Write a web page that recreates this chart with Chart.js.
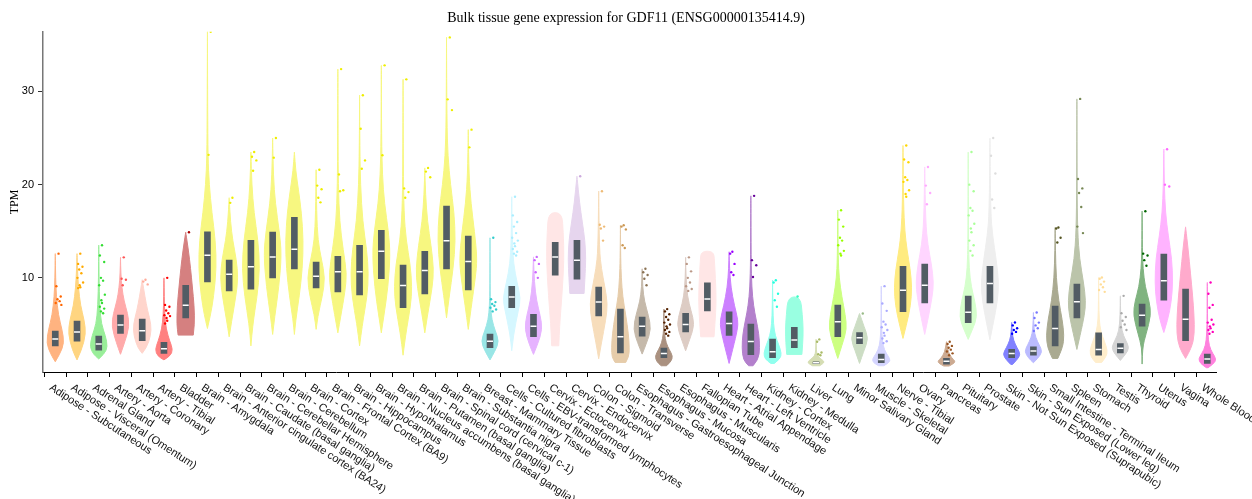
<!DOCTYPE html>
<html>
<head>
<meta charset="utf-8">
<script src="https://cdn.jsdelivr.net/npm/chart.js@4/dist/chart.umd.min.js"></script>
<style>
  html, body { margin: 0; padding: 0; background: #fff; }
  #wrap { width: 1252px; height: 499px; }
</style>
</head>
<body>
<div id="wrap"><canvas id="myChart"></canvas></div>
<script>
const tissues = [
  'Adipose - Subcutaneous', 'Adipose - Visceral (Omentum)', 'Adrenal Gland', 'Artery - Aorta',
  'Artery - Coronary', 'Artery - Tibial', 'Bladder', 'Brain - Amygdala',
  'Brain - Anterior cingulate cortex (BA24)', 'Brain - Caudate (basal ganglia)',
  'Brain - Cerebellar Hemisphere', 'Brain - Cerebellum', 'Brain - Cortex',
  'Brain - Frontal Cortex (BA9)', 'Brain - Hippocampus', 'Brain - Hypothalamus',
  'Brain - Nucleus accumbens (basal ganglia)', 'Brain - Putamen (basal ganglia)',
  'Brain - Spinal cord (cervical c-1)', 'Brain - Substantia nigra', 'Breast - Mammary Tissue',
  'Cells - Cultured fibroblasts', 'Cells - EBV-transformed lymphocytes', 'Cervix - Ectocervix',
  'Cervix - Endocervix', 'Colon - Sigmoid', 'Colon - Transverse',
  'Esophagus - Gastroesophageal Junction', 'Esophagus - Mucosa', 'Esophagus - Muscularis',
  'Fallopian Tube', 'Heart - Atrial Appendage', 'Heart - Left Ventricle', 'Kidney - Cortex',
  'Kidney - Medulla', 'Liver', 'Lung', 'Minor Salivary Gland', 'Muscle - Skeletal',
  'Nerve - Tibial', 'Ovary', 'Pancreas', 'Pituitary', 'Prostate',
  'Skin - Not Sun Exposed (Suprapubic)', 'Skin - Sun Exposed (Lower leg)',
  'Small Intestine - Terminal Ileum', 'Spleen', 'Stomach', 'Testis', 'Thyroid', 'Uterus',
  'Vagina', 'Whole Blood'
];

const colors = [
  '#FF6600', '#FFAA00', '#33DD33', '#FF5555', '#FFAA99', '#FF0000', '#AA0000', '#EEEE00',
  '#EEEE00', '#EEEE00', '#EEEE00', '#EEEE00', '#EEEE00', '#EEEE00', '#EEEE00', '#EEEE00',
  '#EEEE00', '#EEEE00', '#EEEE00', '#EEEE00', '#33CCCC', '#AAEEFF', '#CC66FF', '#FFCCCC',
  '#CCAADD', '#EEBB77', '#CC9955', '#8B7355', '#552200', '#BB9988', '#FFCCCC', '#9900FF',
  '#660099', '#22FFDD', '#33FFC2', '#AABB66', '#99FF00', '#99BB88', '#AAAAFF', '#FFD700',
  '#FFAAFF', '#995522', '#AAFF99', '#DDDDDD', '#0000FF', '#7777FF', '#555522', '#778855',
  '#FFDD99', '#AAAAAA', '#006600', '#FF66FF', '#FF5599', '#FF00BB'
];

// box: lower quartile, median, upper quartile (TPM)
const q1 = [2.71, 3.2, 2.25, 4.04, 3.25, 1.9, 5.7, 9.57, 8.6, 8.8, 10.0, 10.96, 8.93, 8.5, 8.18, 9.9,
  6.79, 8.29, 10.96, 8.71, 2.5, 6.79, 3.68, 10.3, 9.86, 5.93, 1.96, 3.75, 1.43, 4.21, 6.46, 3.82,
  1.75, 1.43, 2.5, 0.8, 3.68, 2.93, 0.89, 6.36, 7.32, 0.75, 5.18, 7.32, 1.43, 1.71, 2.71, 5.71,
  1.71, 1.96, 4.82, 7.61, 3.25, 0.82];
const medians = [3.43, 4.2, 2.9, 4.93, 4.32, 2.4, 7.07, 12.43, 10.4, 11.2, 12.25, 13.08, 10.18, 10.65,
  10.65, 12.86, 9.18, 10.79, 13.97, 11.75, 3.21, 7.95, 4.82, 12.25, 11.9, 7.4, 3.68, 4.82, 1.89,
  5.0, 7.72, 5.11, 3.18, 2.07, 3.32, 0.9, 5.29, 3.57, 1.25, 8.68, 9.22, 1.04, 6.32, 9.4, 1.89,
  2.14, 4.57, 7.43, 2.32, 2.46, 6.0, 9.68, 5.57, 1.29];
const q3 = [4.29, 5.36, 3.75, 6.0, 5.57, 3.07, 9.2, 14.93, 11.9, 14.04, 14.9, 16.5, 11.68, 12.3, 13.5,
  15.1, 11.36, 12.86, 17.7, 14.47, 3.97, 9.1, 6.1, 13.8, 14.04, 9.0, 6.65, 5.79, 2.46, 6.2, 9.46,
  6.36, 5.04, 3.43, 4.68, 1.0, 7.07, 4.14, 1.82, 11.25, 11.47, 1.36, 8.04, 11.25, 2.32, 2.6, 6.97,
  9.32, 4.11, 2.96, 7.18, 12.54, 8.79, 1.82];

// violin outline: [TPM, relative half width]
const violinShapes = [
  [[1.0,0],[1.8,0.5],[3.0,1],[4.5,0.75],[6,0.35],[8,0.12],[10,0.04],[12.6,0]],
  [[1.2,0],[2.2,0.5],[4,1],[5.5,0.8],[7,0.4],[9,0.15],[11,0.05],[12.6,0]],
  [[1.3,0],[1.8,0.6],[2.6,1],[3.8,0.75],[5,0.3],[7,0.1],[10,0.03],[13.5,0]],
  [[1.8,0],[3,0.45],[4.8,1],[6.2,0.8],[7.5,0.4],[9,0.15],[10.5,0.04],[12.2,0]],
  [[1.9,0],[2.5,0.5],[3.8,0.95],[5,1],[6.5,0.6],[8,0.3],[9.8,0]],
  [[1.2,0],[1.6,0.7],[2.3,1],[3.2,0.65],[4.5,0.25],[6,0.08],[8,0.03],[10,0]],
  [[3.86,0.85],[5,1],[7,0.95],[9,0.75],[11,0.55],[13,0.3],[14.9,0]],
  [[4.57,0],[6,0.35],[8,0.7],[11,1],[14,0.9],[17,0.5],[20,0.2],[23,0.06],[28,0.03],[36.4,0]],
  [[3.68,0],[5.5,0.3],[8,0.75],[10,1],[12,0.8],[14,0.4],[16,0.15],[18.6,0]],
  [[2.7,0],[5,0.2],[8,0.7],[11,1],[14,0.8],[17,0.35],[20,0.1],[23.5,0]],
  [[3.93,0],[6,0.25],[9,0.7],[12.5,1],[15,0.75],[18,0.3],[21,0.08],[25,0]],
  [[3.93,0],[5.5,0.15],[8,0.55],[11,0.9],[14,1],[17,0.8],[19.5,0.45],[21.5,0.15],[23.5,0]],
  [[4.47,0],[6,0.2],[8,0.7],[10,1],[12,0.6],[14,0.2],[17,0.06],[21.6,0]],
  [[4.1,0],[6,0.35],[8.5,0.8],[10.5,1],[13,0.6],[16,0.2],[20,0.05],[25,0.02],[32.4,0]],
  [[2.7,0],[5,0.3],[8,0.85],[10.5,1],[13,0.8],[16,0.35],[20,0.1],[24,0.03],[29.6,0]],
  [[4.1,0],[6,0.3],[9,0.75],[12.5,1],[15,0.8],[18,0.35],[21,0.12],[25,0.03],[32.8,0]],
  [[1.7,0],[4,0.3],[7,0.85],[9,1],[11.5,0.8],[14,0.35],[17,0.1],[22,0.03],[31.3,0]],
  [[4.1,0],[6,0.3],[9,0.85],[11,1],[13.5,0.7],[16,0.3],[19,0.08],[21.8,0]],
  [[5.71,0],[8,0.3],[11,0.75],[14,1],[17,0.85],[20,0.45],[23,0.15],[27,0.04],[35.8,0]],
  [[4.47,0],[7,0.35],[10,0.8],[12,1],[15,0.7],[18,0.3],[21,0.08],[25.9,0]],
  [[1.2,0],[2.2,0.6],[3.2,1],[4.3,0.6],[5.5,0.2],[7,0.06],[9,0.02],[14.3,0]],
  [[2.18,0],[4,0.2],[6.5,0.75],[7.8,1],[9.5,0.6],[11.5,0.2],[14,0.06],[18.7,0]],
  [[1.79,0],[2.8,0.45],[4.5,1],[6,0.75],[7.5,0.35],[9.5,0.1],[12.25,0]],
  [[2.71,0.4],[5,0.5],[8,0.75],[12,1],[15,0.9],[17,0.75]],
  [[8.33,0.8],[10,0.9],[12,1],[14,0.9],[16,0.6],[18,0.3],[20.9,0]],
  [[1.32,0],[3,0.3],[5.5,0.8],[7.2,1],[9,0.7],[11,0.3],[13,0.08],[19.3,0]],
  [[0.93,0.6],[1.5,0.95],[2.5,1],[4,0.9],[6,0.6],[8,0.25],[10,0.1],[12,0.03],[15.65,0]],
  [[1.82,0],[3,0.5],[4.5,1],[6,0.7],[7.5,0.25],[9,0.06],[10.97,0]],
  [[0.57,0.3],[1.0,0.8],[1.6,1],[2.3,0.6],[3,0.25],[4,0.06],[5,0.02],[6.65,0]],
  [[2.18,0],[3.5,0.5],[5,1],[6.5,0.6],[8,0.2],[10,0.04],[12.2,0]],
  [[3.68,0.75],[5,0.85],[7.5,1],[10,0.9],[11.8,0.8],[12.86,0.7]],
  [[0.82,0],[2.5,0.45],[4.5,0.95],[5.5,1],[7,0.6],[9,0.2],[11,0.05],[12.8,0]],
  [[0.57,0.25],[1.2,0.85],[2.5,1],[4,0.9],[5.5,0.6],[7,0.3],[9,0.1],[12,0.03],[18.8,0]],
  [[0.82,0.2],[1.3,0.85],[1.9,1],[2.8,0.7],[3.8,0.3],[5,0.1],[7,0.03],[9.75,0]],
  [[1.79,0.85],[3,0.95],[4.5,1],[6,0.9],[7.96,0.7]],
  [[0.57,0.4],[0.9,1],[1.2,0.7],[1.6,0.15],[2.2,0.03],[3.4,0]],
  [[1.36,0],[3,0.55],[4.5,1],[6,0.85],[8,0.45],[10,0.15],[12,0.05],[17.26,0]],
  [[0.82,0],[2.2,0.5],[3.5,1],[4.8,0.5],[6.18,0]],
  [[0.57,0.3],[0.9,0.9],[1.3,1],[1.9,0.55],[2.7,0.2],[4,0.06],[6,0.02],[9.11,0]],
  [[3.5,0],[5,0.4],[7,0.85],[9,1],[11,0.8],[13,0.45],[15,0.2],[18,0.06],[24.2,0]],
  [[3.93,0],[5.5,0.35],[8,0.85],[9.5,1],[11.5,0.75],[13.5,0.35],[16,0.1],[21.9,0]],
  [[0.54,0.3],[0.8,0.8],[1.05,1],[1.4,0.6],[2,0.2],[3.15,0]],
  [[3.4,0],[4.5,0.5],[5.8,1],[7.5,0.75],[9,0.35],[11,0.1],[14,0.03],[23.5,0]],
  [[3.36,0],[5,0.35],[7.5,0.85],[9.5,1],[12,0.7],[14.5,0.3],[17,0.08],[25,0]],
  [[0.71,0.1],[1.2,0.6],[1.8,1],[2.5,0.6],[3.3,0.2],[4.2,0.05],[5.21,0]],
  [[0.89,0],[1.4,0.55],[2.1,1],[2.8,0.65],[3.6,0.25],[4.5,0.06],[6.29,0]],
  [[1.36,0.3],[2.5,0.85],[3.8,1],[5.5,0.8],[7.5,0.4],[10,0.12],[13,0.03],[15.4,0]],
  [[2.32,0],[4,0.4],[6,0.85],[7.5,1],[9.5,0.75],[12,0.3],[15,0.08],[20,0.02],[29.2,0]],
  [[0.93,0.35],[1.5,0.85],[2.2,1],[3.2,0.65],[4.2,0.25],[5.5,0.06],[7.5,0.02],[10.04,0]],
  [[1.14,0],[1.8,0.6],[2.5,1],[3.3,0.6],[4.3,0.15],[6,0.03],[8.07,0]],
  [[0.75,0],[2.5,0.03],[4,0.45],[6,1],[7.5,0.8],[9,0.35],[11,0.1],[13,0.03],[17.15,0]],
  [[4.14,0],[5.5,0.45],[7.5,0.85],[9.5,1],[12,0.9],[14.5,0.5],[17,0.18],[20,0.05],[23.8,0]],
  [[1.36,0],[2.5,0.7],[4,1],[6,0.95],[8,0.8],[10.5,0.55],[13,0.3],[15.47,0]],
  [[0.36,0.1],[0.8,0.75],[1.3,1],[1.9,0.6],[2.7,0.2],[4,0.06],[6,0.02],[9.5,0]]
];

// points above the upper fence (TPM)
const outliers = [
  [12.6, 9.1, 8.0, 7.7, 7.5, 7.3, 7.1],
  [12.6, 11.5, 11.2, 10.9, 10.5, 10.0, 9.5, 9.2, 9.0, 8.9],
  [13.5, 12.4, 11.7, 10.0, 9.7, 9.2, 8.2, 7.6, 7.3, 6.9, 6.7, 6.4, 6.2],
  [12.2, 9.9, 9.8, 9.2],
  [9.8, 9.6, 9.3],
  [10.0, 7.1, 6.9, 6.5, 6.2, 6.0, 5.9, 5.7, 5.4, 5.1],
  [14.9],
  [36.4, 23.2],
  [18.6, 18.05],
  [23.5, 23.0, 22.6, 21.5],
  [25.0, 22.9],
  [],
  [21.6, 19.9, 19.5, 18.6, 18.1],
  [32.4, 21.1, 19.4, 19.3],
  [29.6, 26.0, 22.6, 21.7],
  [32.8, 23.15],
  [31.3, 19.6, 19.2, 18.6],
  [21.8, 21.4, 20.8],
  [35.8, 29.15, 28.0],
  [25.9, 24.0],
  [14.3, 7.7, 7.4, 7.2, 7.0, 6.8, 6.6, 6.4],
  [18.7, 16.7, 16.0, 15.5, 14.8, 14.3, 14.0, 13.7, 13.4, 13.1, 12.8, 12.6, 12.4],
  [12.25, 11.9, 11.5, 10.6, 10.0],
  [],
  [20.9],
  [19.3, 15.7, 15.5, 15.3, 14.0],
  [15.65, 15.5, 15.2, 13.5, 13.2],
  [10.97, 10.6, 10.3, 9.9, 9.2],
  [6.65, 6.4, 6.1, 5.8, 5.5, 5.2, 5.0, 4.8, 4.6, 4.4, 4.2, 4.0, 3.8],
  [12.2, 11.5, 10.7, 10.0, 9.5, 9.1, 8.8, 8.6],
  [],
  [12.8, 12.6, 11.5, 10.6, 10.3],
  [18.8, 11.9, 11.35, 10.1],
  [9.75, 9.5, 8.3, 7.6, 6.9],
  [8.0],
  [3.4, 3.15, 2.0, 1.8, 1.7],
  [17.26, 16.25, 15.5, 14.3, 14.0, 13.5, 12.9, 12.6, 12.4],
  [6.18],
  [9.11, 7.25, 6.46, 5.3, 5.0, 4.7, 4.4, 4.1, 3.8, 3.5, 3.2, 3.0],
  [24.2, 22.7, 22.4, 20.8, 20.5, 20.3, 19.4, 19.0, 18.7],
  [21.9, 19.9, 19.1, 17.9],
  [3.15, 2.9, 2.7, 2.5, 2.3, 2.1, 1.9, 1.7],
  [23.5, 20.0, 19.3, 17.5, 17.2, 16.7, 15.8, 15.3, 14.9, 14.0, 13.5, 12.9, 12.4],
  [25.0, 23.1, 21.2, 18.4, 17.5],
  [5.21, 4.9, 4.6, 4.4, 4.2, 4.0],
  [6.29, 5.7, 5.2, 4.9, 4.6, 4.3],
  [15.4, 15.3, 14.3, 13.8],
  [29.2, 20.6, 19.6, 19.1, 17.6, 15.5, 14.8],
  [10.04, 9.9, 9.6, 9.3, 9.0, 8.7, 8.5],
  [8.07, 6.2, 5.8, 5.4, 5.0, 4.7, 4.4],
  [17.15, 12.6, 12.4, 11.9, 11.3],
  [23.8, 20.0, 19.8],
  [],
  [9.5, 8.3, 7.1, 6.8, 5.5, 5.2, 5.0, 4.8, 4.6, 4.4, 4.2, 4.0]
];

const yTicks = [10, 20, 30];

// fixed horizontal spread for the outlier dots (category units)
const jitter = [0.15, 0.05, 0.25, 0.1, 0.2, 0.02, 0.28, 0.12];

function pale(hex) {
  const n = parseInt(hex.slice(1), 16);
  const r = Math.round(((n >> 16) + 255) / 2);
  const g = Math.round((((n >> 8) & 255) + 255) / 2);
  const b = Math.round(((n & 255) + 255) / 2);
  return 'rgb(' + r + ',' + g + ',' + b + ')';
}

const violinPlugin = {
  id: 'violins',
  beforeDatasetsDraw(chart) {
    const ctx = chart.ctx;
    const x = chart.scales.x, y = chart.scales.y;
    const hw = (x.getPixelForValue(1) - x.getPixelForValue(0)) * 0.41;
    ctx.save();
    violinShapes.forEach((shape, i) => {
      const cx = x.getPixelForValue(i);
      const right = shape.map(p => [cx + p[1] * hw, y.getPixelForValue(p[0])]);
      const left = shape.slice().reverse().map(p => [cx - p[1] * hw, y.getPixelForValue(p[0])]);
      const pts = right.concat(left);
      ctx.beginPath();
      ctx.moveTo(pts[0][0], pts[0][1]);
      for (let k = 1; k < pts.length - 1; k++) {
        const mx = (pts[k][0] + pts[k + 1][0]) / 2;
        const my = (pts[k][1] + pts[k + 1][1]) / 2;
        ctx.quadraticCurveTo(pts[k][0], pts[k][1], mx, my);
      }
      ctx.lineTo(pts[pts.length - 1][0], pts[pts.length - 1][1]);
      ctx.closePath();
      ctx.fillStyle = pale(colors[i]);
      ctx.strokeStyle = pale(colors[i]);
      ctx.lineWidth = 1;
      ctx.fill();
      ctx.stroke();
    });
    ctx.restore();
  }
};

// slanted category names under the x axis
const labelPlugin = {
  id: 'slantLabels',
  afterDraw(chart) {
    const ctx = chart.ctx;
    const x = chart.scales.x;
    ctx.save();
    ctx.font = '11px "Liberation Sans", Arial, sans-serif';
    ctx.fillStyle = '#111';
    ctx.textAlign = 'left';
    ctx.textBaseline = 'top';
    tissues.forEach((name, i) => {
      ctx.save();
      ctx.translate(x.getPixelForValue(i) - 2, x.top + 10);
      ctx.rotate(33 * Math.PI / 180);
      ctx.fillText(name, 0, 0);
      ctx.restore();
    });
    ctx.restore();
  }
};

const boxData = tissues.map((t, i) => ({ x: i, y: [q1[i], q3[i]] }));
const medianData = tissues.map((t, i) => ({ x: i, y: medians[i] }));
const pointData = [];
const pointColors = [];
outliers.forEach((vals, i) => {
  vals.forEach((v, k) => {
    pointData.push({ x: i + jitter[k % jitter.length], y: v });
    pointColors.push(colors[i]);
  });
});

const ctx = document.getElementById('myChart');

new Chart(ctx, {
  type: 'bar',
  data: {
    datasets: [
      {
        type: 'scatter',
        data: medianData,
        pointStyle: 'line',
        pointRadius: 3,
        pointBorderColor: '#ffffff',
        pointBorderWidth: 1.5
      },
      {
        data: boxData,
        backgroundColor: '#525c64',
        barThickness: 6
      },
      {
        type: 'scatter',
        data: pointData,
        pointRadius: 1.2,
        pointBorderWidth: 0,
        pointBackgroundColor: pointColors
      }
    ]
  },
  options: {
    responsive: true,
    maintainAspectRatio: false,
    animation: false,
    layout: { padding: 0 },
    plugins: {
      legend: { display: false },
      tooltip: { enabled: false },
      title: {
        display: true,
        text: 'Bulk tissue gene expression for GDF11 (ENSG00000135414.9)',
        color: '#000',
        font: { family: '"Liberation Serif", "Times New Roman", serif', size: 14, weight: 'normal' },
        padding: { top: 10, bottom: 5 }
      }
    },
    scales: {
      x: {
        type: 'linear',
        offset: false,
        min: -0.565,
        max: 53.4,
        afterBuildTicks: (scale) => { scale.ticks = tissues.map((t, i) => ({ value: i })); },
        afterFit: (scale) => { scale.height = 127; },
        ticks: { display: false },
        grid: { drawOnChartArea: false, drawTicks: true, tickLength: 5, color: '#000' },
        border: { display: true, color: '#000', width: 1 }
      },
      y: {
        min: -0.1,
        max: 36.4,
        afterBuildTicks: (scale) => { scale.ticks = yTicks.map(v => ({ value: v })); },
        afterFit: (scale) => { scale.width = 43; },
        ticks: {
          color: '#000',
          padding: 4,
          font: { family: '"Liberation Sans", Arial, sans-serif', size: 11 }
        },
        grid: { drawOnChartArea: false, drawTicks: true, tickLength: 5, color: '#333' },
        border: { display: true, color: '#777', width: 1.5 },
        title: {
          display: true,
          text: 'TPM',
          color: '#000',
          font: { family: '"Liberation Serif", "Times New Roman", serif', size: 12 },
          padding: { top: 8, bottom: 0 }
        }
      },
      yRight: {
        position: 'right',
        display: true,
        afterFit: (scale) => { scale.width = 36; },
        ticks: { display: false },
        grid: { display: false },
        border: { display: false }
      }
    }
  },
  plugins: [violinPlugin, labelPlugin]
});
</script>
</body>
</html>
